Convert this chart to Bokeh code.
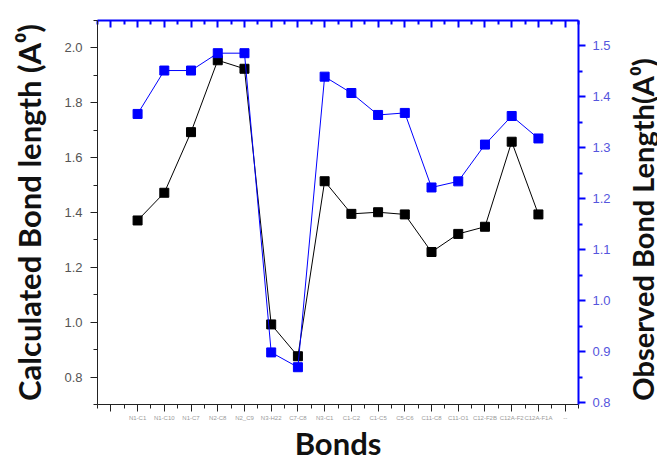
import math
from bokeh.plotting import figure
from bokeh.layouts import row
from bokeh.models import Range1d, LinearAxis, FixedTicker, PrintfTickFormatter, Label
from bokeh.embed import file_html
from bokeh.resources import INLINE

bonds = ["N1-C1", "N1-C10", "N1-C7", "N2-C8", "N2_C9", "N3-H22", "C7-C8", "N3-C1",
         "C1-C2", "C1-C5", "C5-C6", "C11-C8", "C11-O1", "C12-F2B", "C12A-F2", "C12A-F1A"]
extra_label = "--"
calculated = [1.371, 1.472, 1.693, 1.955, 1.924, 0.992, 0.876, 1.514,
              1.395, 1.401, 1.393, 1.256, 1.322, 1.348, 1.658, 1.393]
observed = [1.366, 1.451, 1.451, 1.485, 1.485, 0.899, 0.870, 1.439,
            1.407, 1.364, 1.368, 1.222, 1.234, 1.306, 1.362, 1.318]
left_ticks = [0.8, 1.0, 1.2, 1.4, 1.6, 1.8, 2.0]
right_ticks = [0.8, 0.9, 1.0, 1.1, 1.2, 1.3, 1.4, 1.5]

xs = list(range(1, len(bonds) + 1))

p = figure(width=627, height=464, output_backend="svg", toolbar_location=None,
           x_range=Range1d(-0.5, 17.5), y_range=Range1d(0.70, 2.10),
           min_border_left=97, min_border_right=49, min_border_top=20, min_border_bottom=57)
p.extra_y_ranges = {"obs": Range1d(0.797, 1.549)}
p.outline_line_color = None
p.xgrid.visible = False
p.ygrid.visible = False
p.background_fill_color = "white"
p.border_fill_color = "white"

# bottom axis
xa = p.xaxis[0]
xa.ticker = FixedTicker(ticks=list(range(0, 18)), minor_ticks=[i + 0.5 for i in range(-1, 18)])
overrides = {0: ""}
for i, b in enumerate(bonds):
    overrides[i + 1] = b
overrides[17] = extra_label
xa.major_label_overrides = overrides
xa.major_label_text_font_size = "6px"
xa.major_label_text_color = "#9a9a9a"
xa.major_label_text_font = "Liberation Sans"
xa.major_label_standoff = 3
xa.major_tick_out = 7
xa.major_tick_in = 0
xa.minor_tick_out = 4
xa.minor_tick_in = 0
xa.axis_line_color = "#222222"
xa.major_tick_line_color = "#222222"
xa.minor_tick_line_color = "#222222"
xa.axis_label = "Bonds"
xa.axis_label_text_font = "Lato"
xa.axis_label_text_font_style = "bold"
xa.axis_label_text_font_size = "31px"
xa.axis_label_text_color = "#111111"
xa.axis_label_standoff = 0

# left axis
ya = p.yaxis[0]
ya.ticker = FixedTicker(ticks=left_ticks, minor_ticks=[0.7, 0.9, 1.1, 1.3, 1.5, 1.7, 1.9, 2.1])
ya.formatter = PrintfTickFormatter(format="%.1f")
ya.major_label_text_font = "Liberation Sans"
ya.major_label_text_font_size = "13px"
ya.major_label_text_color = "#555555"
ya.major_label_standoff = 8
ya.major_tick_out = 7
ya.major_tick_in = 0
ya.minor_tick_out = 4
ya.minor_tick_in = 0
ya.axis_line_color = "#222222"
ya.major_tick_line_color = "#222222"
ya.minor_tick_line_color = "#222222"
ya.axis_label = "Calculated Bond length (A\u2070)"
ya.axis_label_text_font = "Lato"
ya.axis_label_text_font_style = "bold"
ya.axis_label_text_font_size = "31px"
ya.axis_label_text_color = "#111111"
ya.axis_label_standoff = 13

# right axis
ra = LinearAxis(y_range_name="obs")
ra.ticker = FixedTicker(ticks=right_ticks, minor_ticks=[0.85, 0.95, 1.05, 1.15, 1.25, 1.35, 1.45])
ra.formatter = PrintfTickFormatter(format="%.1f")
ra.major_label_text_font = "Liberation Sans"
ra.major_label_text_font_size = "13px"
ra.major_label_text_color = "#5555dd"
ra.major_label_standoff = 7
ra.major_tick_out = 7
ra.major_tick_in = 0
ra.minor_tick_out = 4
ra.minor_tick_in = 0
ra.axis_line_color = "#0000ff"
ra.axis_line_width = 2
ra.major_tick_line_color = "#0000ff"
ra.major_tick_line_width = 2
ra.minor_tick_line_color = "#0000ff"
ra.minor_tick_line_width = 2
p.add_layout(ra, "right")

# top axis
ta = LinearAxis()
ta.ticker = FixedTicker(ticks=list(range(0, 18)), minor_ticks=[i + 0.5 for i in range(-1, 18)])
ta.major_label_text_font_size = "0px"
ta.major_label_text_alpha = 0
ta.major_tick_in = 7
ta.major_tick_out = 0
ta.minor_tick_in = 4
ta.minor_tick_out = 0
ta.axis_line_color = "#0000ff"
ta.axis_line_width = 2
ta.major_tick_line_color = "#0000ff"
ta.major_tick_line_width = 2
ta.minor_tick_line_color = "#0000ff"
ta.minor_tick_line_width = 2
p.add_layout(ta, "above")

# series
p.line(xs, calculated, line_color="black", line_width=1)
p.scatter(xs, calculated, marker="square", size=9, fill_color="black", line_color="black")
p.line(xs, observed, line_color="#0000ff", line_width=1, y_range_name="obs")
p.scatter(xs, observed, marker="square", size=9, fill_color="#0000ff", line_color="#0000ff",
          y_range_name="obs")

# narrow strip holding the right-hand title (reads bottom to top)
t = figure(width=30, height=464, output_backend="svg", toolbar_location=None,
           x_axis_type=None, y_axis_type=None,
           x_range=Range1d(0, 1), y_range=Range1d(0, 1),
           min_border_left=0, min_border_right=0, min_border_top=0, min_border_bottom=0)
t.outline_line_color = None
t.xgrid.visible = False
t.ygrid.visible = False
t.background_fill_color = "white"
t.border_fill_color = "white"
t.add_layout(Label(x=15, y=175, x_units="screen", y_units="screen",
                   text="Observed Bond Length(A\u2070)", angle=math.pi / 2,
                   text_align="center", text_baseline="middle",
                   text_font="Lato", text_font_style="bold", text_font_size="29px",
                   text_color="#111111"))

layout = row(p, t, spacing=0)
open("out.html", "w").write(file_html(layout, INLINE))
